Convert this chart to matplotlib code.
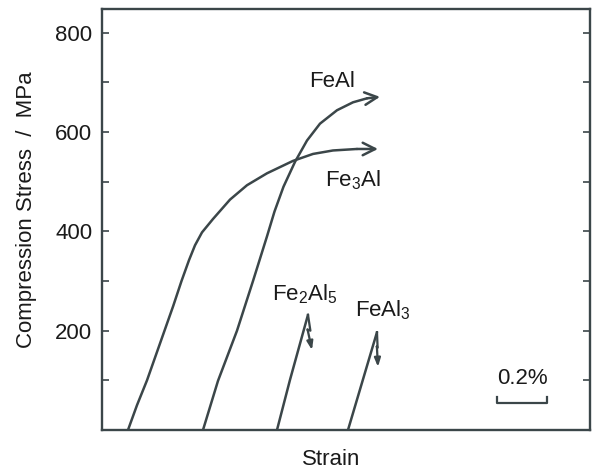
import numpy as np
import matplotlib.pyplot as plt

plt.rcParams['font.family'] = ['Liberation Sans', 'DejaVu Sans']
plt.rcParams['mathtext.fontset'] = 'custom'
plt.rcParams['mathtext.rm'] = 'Liberation Sans'
plt.rcParams['mathtext.it'] = 'Liberation Sans:italic'

# strain in %, stress in MPa
fe3al_strain = [0.104, 0.14, 0.18, 0.215, 0.25, 0.285, 0.318, 0.348, 0.372, 0.40,
                0.444, 0.512, 0.58, 0.66, 0.764, 0.844, 0.924, 1.02, 1.104]
fe3al_stress = [0, 50, 100, 150, 200, 250, 300, 342, 372, 398,
                425, 464, 493, 517, 542, 556, 563, 566, 566]

feal_strain = [0.404, 0.464, 0.54, 0.604, 0.632, 0.66, 0.69, 0.726, 0.772, 0.82,
               0.872, 0.94, 1.004, 1.06, 1.112]
feal_stress = [0, 99, 200, 300, 345, 390, 440, 490, 540, 583, 617, 644, 660, 668, 671]

fe2al5_strain = [0.70, 0.752, 0.824]
fe2al5_stress = [0, 101, 232]
fe2al5_drop = [0.84, 161]

feal3_strain = [0.984, 1.10]
feal3_stress = [0, 197]
feal3_drop = [1.104, 127]

labels = ['FeAl', 'Fe$_3$Al', 'Fe$_2$Al$_5$', 'FeAl$_3$']
label_pos = [(0.92, 691), (1.002, 490), (0.812, 262), (1.122, 228)]

col = '#3b4649'
txt = '#1a1a1a'
lw = 1.8

fig = plt.figure(figsize=(6, 4.72), dpi=100)
ax = fig.add_axes([0.17, 0.089, 0.8133, 0.892])

def arrow_line(xs, ys):
    ax.plot(xs[:-1], ys[:-1], color=col, lw=lw, solid_capstyle='round',
            solid_joinstyle='round')
    ax.annotate('', xy=(xs[-1], ys[-1]), xytext=(xs[-2], ys[-2]),
                arrowprops=dict(arrowstyle='->,head_length=0.9,head_width=0.45',
                                color=col, lw=lw, shrinkA=0, shrinkB=0))

arrow_line(fe3al_strain, fe3al_stress)
arrow_line(feal_strain, feal_stress)

def fracture(xs, ys, drop):
    ax.plot(xs, ys, color=col, lw=lw, solid_capstyle='round')
    x0, y0 = xs[-1], ys[-1]
    dx = drop[0] - x0
    dy = y0 - drop[1]
    zx = [x0, x0 + dx * 0.6, x0 - dx * 0.1]
    zy = [y0, y0 - dy * 0.45, y0 - dy * 0.42]
    ax.plot(zx, zy, color=col, lw=lw * 0.9)
    ax.annotate('', xy=(drop[0], drop[1]), xytext=(zx[-1], zy[-1]),
                arrowprops=dict(arrowstyle='-|>,head_length=0.5,head_width=0.18',
                                color=col, lw=lw * 0.9, shrinkA=0, shrinkB=0))

fracture(fe2al5_strain, fe2al5_stress, fe2al5_drop)
fracture(feal3_strain, feal3_stress, feal3_drop)

for t, (x, y) in zip(labels, label_pos):
    ax.text(x, y, t, ha='center', va='baseline', fontsize=16, color=txt)

# scale bar 0.2 %
ax.plot([1.58, 1.58, 1.78, 1.78], [66, 54, 54, 66], color=col, lw=1.6)
ax.text(1.68, 93, '0.2%', ha='center', va='baseline', fontsize=16, color=txt)

ax.set_xlim(0, 1.952)
ax.set_ylim(0, 848)
ax.set_xticks([])
ax.set_yticks([200, 400, 600, 800])
ax.set_yticks([100, 300, 500, 700], minor=True)
ax.tick_params(axis='y', which='both', direction='in', length=5, width=1.2,
               right=True, color=col, labelsize=16, labelcolor=txt, pad=7)
for s in ax.spines.values():
    s.set_color(col)
    s.set_linewidth(1.7)

ax.set_xlabel('Strain', fontsize=16, color=txt)
ax.xaxis.set_label_coords(0.469, -0.045)
ax.set_ylabel('Compression Stress  /  MPa', fontsize=16, color=txt)
ax.yaxis.set_label_coords(-0.133, 0.523)

fig.savefig('out.png', dpi=100)
